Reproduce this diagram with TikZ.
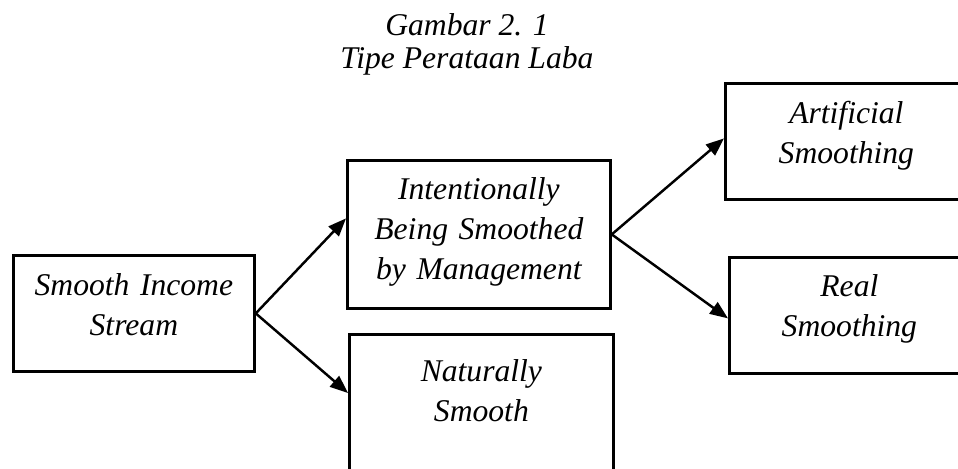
\documentclass[tikz,border=0pt]{standalone}
\usepackage{fontspec}
\setmainfont{Liberation Serif}
\usetikzlibrary{arrows.meta,calc,positioning}

\begin{document}
\begin{tikzpicture}[x=0.02cm,y=-0.02cm,
    judul/.style={anchor=base,font=\itshape\fontsize{18}{18.8}\selectfont},
    kotak/.style={draw,line width=1.6pt,anchor=north west,inner xsep=0pt,inner ysep=0pt,
      align=center,font=\itshape\fontsize{18}{22.7}\selectfont},
    panah/.style={-{Triangle[length=0.36cm,width=0.28cm]},line width=1.4pt}]
  \path[use as bounding box,clip] (0,0) rectangle (958,468);
  % judul
  \node[judul] (gambar) at (467,35) {Gambar 2. 1};
  \node[judul] (tipe) at (467,68) {Tipe Perataan Laba};
  % kotak
  \node[kotak,text width=4.82cm,text height=0.8cm,text depth=1.52cm] (sis) at (12,254) {Smooth Income\\Stream};
  \node[kotak,text width=5.26cm,text height=0.78cm,text depth=2.18cm] (ibs) at (346,159) {Intentionally\\Being Smoothed\\by Management};
  \node[kotak,text width=5.28cm,text height=0.94cm,text depth=2.4cm] (ns) at (348,333) {Naturally\\Smooth};
  \node[kotak,text width=4.84cm,text height=0.8cm,text depth=1.52cm] (as) at (724,82) {Artificial\\Smoothing};
  \node[kotak,text width=4.8cm,text height=0.78cm,text depth=1.54cm] (rs) at (728,256) {Real\\Smoothing};
  % panah
  \draw[panah] (sis.east) -- ([yshift=0.32cm]ibs.west);
  \draw[panah] (sis.east) -- ([yshift=-1.2cm]ns.north west);
  \draw[panah] (ibs.east) -- ([yshift=0.06cm]as.west);
  \draw[panah] (ibs.east) -- ([yshift=-0.06cm]rs.west);
\end{tikzpicture}
\end{document}
